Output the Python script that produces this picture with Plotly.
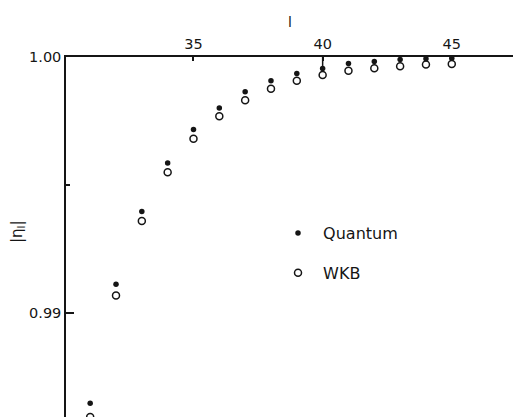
import plotly.graph_objects as go

# Partial-wave index l and modulus of the S-matrix element |eta_l|
l_values = list(range(31, 46))
eta_quantum = [0.98648, 0.99113, 0.99397, 0.99586, 0.99717, 0.99801, 0.99864,
               0.99907, 0.99936, 0.99955, 0.99975, 0.99982, 0.99990, 0.99993, 0.99995]
eta_wkb = [0.98595, 0.99069, 0.99360, 0.99550, 0.99681, 0.99769, 0.99831,
           0.99876, 0.99907, 0.99930, 0.99946, 0.99956, 0.99964, 0.99971, 0.99973]

x_ticks = [35, 40, 45]
y_ticks = [0.99, 1.00]
y_tick_text = ["0.99", "1.00"]

INK = "#151515"
FONT = "DejaVu Sans"

fig = go.Figure()
fig.add_trace(go.Scatter(
    x=l_values, y=eta_quantum, mode="markers", name="\u00a0Quantum",
    marker=dict(symbol="circle", size=5.5, color=INK),
    cliponaxis=False, legendgroup="q",
))
fig.add_trace(go.Scatter(
    x=l_values, y=eta_wkb, mode="markers", name="\u00a0WKB",
    marker=dict(symbol="circle-open", size=7, color=INK, line=dict(width=1.5, color=INK)),
    cliponaxis=False, legendgroup="w",
))

fig.update_layout(
    width=513, height=417,
    margin=dict(l=66, r=0, t=57, b=0),
    paper_bgcolor="white", plot_bgcolor="white",
    font=dict(family=FONT, size=14, color=INK),
    showlegend=True,
    legend=dict(
        x=0.4743, y=0.5583, xanchor="left", yanchor="top",
        font=dict(family=FONT, size=16, color=INK),
        bgcolor="rgba(0,0,0,0)", tracegroupgap=16,
        itemsizing="trace",
    ),
    xaxis=dict(
        side="top", range=[30.064, 47.37], autorange=False,
        showline=True, linewidth=1.5, linecolor=INK, mirror=False,
        showgrid=False, zeroline=False,
        tickmode="array", tickvals=x_ticks,
        ticks="inside", ticklen=4, tickwidth=1.5, tickcolor=INK,
        tickfont=dict(family=FONT, size=14.5, color=INK),
        automargin=False,
    ),
    yaxis=dict(
        range=[0.985946, 1.0], autorange=False,
        showline=True, linewidth=1.5, linecolor=INK, mirror=False,
        showgrid=False, zeroline=False,
        tickmode="array", tickvals=y_ticks, ticktext=y_tick_text,
        ticks="inside", ticklen=8, tickwidth=1.5, tickcolor=INK,
        tickfont=dict(family=FONT, size=14.5, color=INK),
        minor=dict(tickmode="array", tickvals=[0.995], ticks="inside",
                   ticklen=4, tickwidth=1.5, tickcolor=INK),
        automargin=False,
    ),
    annotations=[
        dict(text="l", xref="paper", yref="paper", x=0.5, y=1 + 35 / 360,
             showarrow=False, font=dict(family=FONT, size=14, color=INK),
             xanchor="center", yanchor="middle"),
        dict(text="|η<sub>l</sub>|", xref="paper", yref="paper",
             x=-49 / 447, y=1 - 175 / 360, textangle=-90,
             showarrow=False, font=dict(family=FONT, size=15, color=INK),
             xanchor="center", yanchor="middle"),
    ],
    shapes=[
        # longer tick mark at l = 40 on the upper axis
        dict(type="line", xref="x", yref="paper", x0=40, x1=40,
             y0=1, y1=1 - 11 / 360, line=dict(color=INK, width=1.5)),
    ],
)

fig.write_html("out.html")
